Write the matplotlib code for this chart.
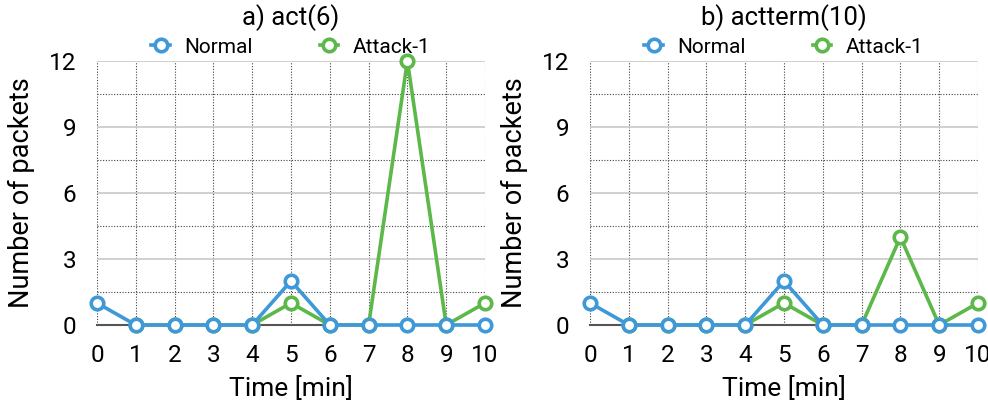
import numpy as np
from matplotlib import pyplot as plt
from matplotlib.ticker import MultipleLocator

plt.rcParams['font.family'] = ['Roboto', 'DejaVu Sans']

minutes = list(range(11))
titles = ['a) act(6)', 'b) actterm(10)']
normal_a = [1, 0, 0, 0, 0, 2, 0, 0, 0, 0, 0]
attack_a = [np.nan, 0, 0, 0, 0, 1, 0, 0, 12, 0, 1]
normal_b = [1, 0, 0, 0, 0, 2, 0, 0, 0, 0, 0]
attack_b = [np.nan, 0, 0, 0, 0, 1, 0, 0, 4, 0, 1]
series = [(normal_a, attack_a), (normal_b, attack_b)]

blue = '#3f98d7'
green = '#5cb848'

fig = plt.figure(figsize=(9.88, 4.08), dpi=100)
lefts = [97 / 988, 590 / 988]
for i in range(2):
    ax = fig.add_axes([lefts[i], 1 - 325 / 408, 388 / 988, 264 / 408])
    normal, attack = series[i]
    ax.plot(minutes, attack, color=green, lw=2.6, marker='o', ms=9, mew=2.6,
            mfc='white', label='Attack-1', zorder=3, clip_on=False)
    ax.plot(minutes, normal, color=blue, lw=2.6, marker='o', ms=9, mew=2.6,
            mfc='white', label='Normal', zorder=4, clip_on=False)
    ax.set_xlim(0, 10)
    ax.set_ylim(0, 12)
    ax.set_xticks(minutes)
    ax.yaxis.set_major_locator(MultipleLocator(3))
    ax.yaxis.set_minor_locator(MultipleLocator(1.5))
    ax.grid(axis='y', which='major', color='#c8c8c8', lw=1.2, ls='-')
    ax.grid(axis='y', which='minor', color='#444444', lw=0.8, ls=(0, (1, 1.5)))
    ax.grid(axis='x', which='major', color='#444444', lw=0.8, ls=(0, (1, 1.5)))
    for s in ['top', 'right', 'left']:
        ax.spines[s].set_visible(False)
    ax.spines['bottom'].set_color('#555555')
    ax.spines['bottom'].set_linewidth(1.5)
    ax.tick_params(which='both', length=0, labelsize=17.5)
    ax.tick_params(axis='x', pad=14)
    ax.tick_params(axis='y', pad=15)
    ax.set_xlabel('Time [min]', fontsize=19, labelpad=6)
    ax.set_ylabel('Number of packets', fontsize=19.5, labelpad=10)
    ax.set_title(titles[i], fontsize=18.5, pad=26)
    h, l = ax.get_legend_handles_labels()
    ax.legend(h[::-1], l[::-1], ncol=2, frameon=False, fontsize=15,
              loc='lower center', bbox_to_anchor=(0.5, 0.985), borderaxespad=0,
              handlelength=0.9, columnspacing=3.2, handletextpad=0.7)

fig.savefig('out.png', dpi=100)
